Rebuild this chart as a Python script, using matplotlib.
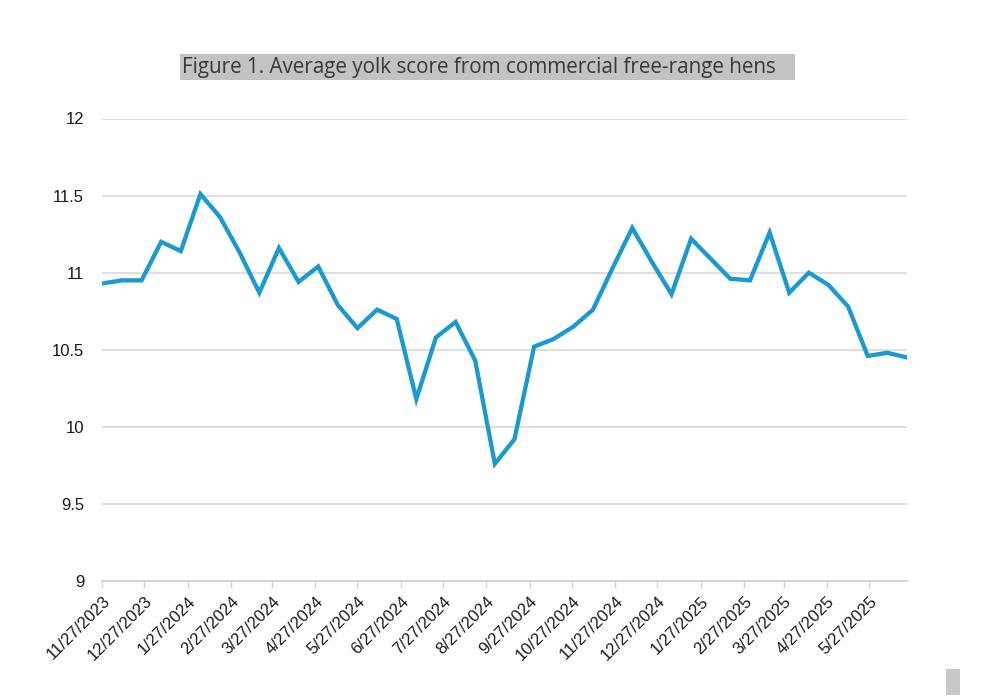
import matplotlib
matplotlib.use("Agg")
import matplotlib.pyplot as plt
from matplotlib.patches import Rectangle
import pandas as pd

# ---- data ----
start_date = "2023-11-27"
n_points = 42
yolk_score = [10.93, 10.95, 10.95, 11.20, 11.14, 11.51, 11.36, 11.13, 10.87, 11.16,
              10.94, 11.04, 10.79, 10.64, 10.76, 10.70, 10.18, 10.58, 10.68, 10.43,
              9.76, 9.92, 10.52, 10.57, 10.65, 10.76, 11.03, 11.29, 11.07, 10.86,
              11.22, 11.09, 10.96, 10.95, 11.26, 10.87, 11.00, 10.92, 10.78, 10.46,
              10.48, 10.45]
tick_dates = ["2023-11-27", "2023-12-27", "2024-01-27", "2024-02-27", "2024-03-27",
              "2024-04-27", "2024-05-27", "2024-06-27", "2024-07-27", "2024-08-27",
              "2024-09-27", "2024-10-27", "2024-11-27", "2024-12-27", "2025-01-27",
              "2025-02-27", "2025-03-27", "2025-04-27", "2025-05-27"]
tick_labels = ["11/27/2023", "12/27/2023", "1/27/2024", "2/27/2024", "3/27/2024",
               "4/27/2024", "5/27/2024", "6/27/2024", "7/27/2024", "8/27/2024",
               "9/27/2024", "10/27/2024", "11/27/2024", "12/27/2024", "1/27/2025",
               "2/27/2025", "3/27/2025", "4/27/2025", "5/27/2025"]
y_ticks = [9, 9.5, 10, 10.5, 11, 11.5, 12]
y_labels = ["9", "9.5", "10", "10.5", "11", "11.5", "12"]
title = "Figure 1. Average yolk score from commercial free-range hens"

dates = pd.date_range(start_date, periods=n_points, freq="14D")

plt.rcParams['font.family'] = ['Liberation Sans', 'DejaVu Sans']

W, H = 996, 700
fig = plt.figure(figsize=(W / 100, H / 100), dpi=100)
ax = fig.add_axes([102.3 / W, 1 - 581 / H, (907 - 102.3) / W, (581 - 118.5) / H])

ax.plot(dates, yolk_score, color="#1B9AD2", lw=3.1, solid_joinstyle="miter", zorder=3)

ax.set_ylim(9, 12)
ax.set_yticks(y_ticks)
ax.set_yticklabels(y_labels, fontsize=12, color="#1a1a1a")
ax.set_xlim(dates[0], dates[-1])
ax.set_xticks(pd.to_datetime(tick_dates))
ax.set_xticklabels(tick_labels, fontsize=12, color="#1a1a1a", rotation=45,
                   ha="right", va="top", rotation_mode="anchor")

ax.grid(axis="y", color="#d9d9d9", lw=1.2)
ax.set_axisbelow(True)
for s in ["left", "right", "top"]:
    ax.spines[s].set_visible(False)
ax.spines["bottom"].set_color("#d0d0d0")
ax.spines["bottom"].set_linewidth(1.2)
ax.tick_params(axis="y", length=0, pad=13)
ax.tick_params(axis="x", length=5, width=1.0, color="#d0d0d0", pad=4)

# title with gray band
fig.patches.append(Rectangle((180 / W, 1 - 80 / H), (795 - 180) / W, 26 / H,
                             transform=fig.transFigure, facecolor="#c3c3c3",
                             edgecolor="none", zorder=0))
fig.text(182 / W, 1 - 67 / H, title, fontsize=14.9, color="#383838",
         ha="left", va="center", family=["Open Sans", "DejaVu Sans"])

# small gray block bottom-right
fig.patches.append(Rectangle((946 / W, 1 - 695 / H), 14 / W, 26 / H,
                             transform=fig.transFigure, facecolor="#c8c8c8",
                             edgecolor="none"))

fig.savefig("out.png", dpi=100)
